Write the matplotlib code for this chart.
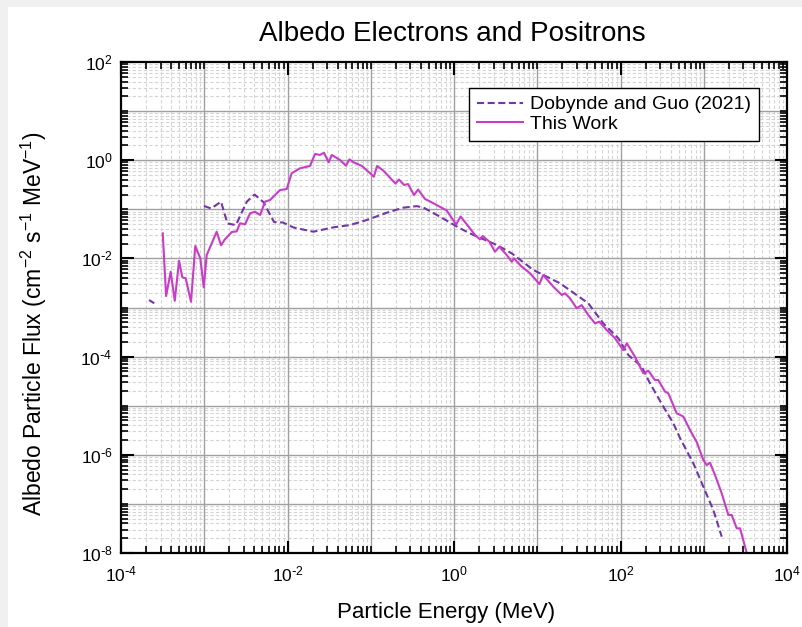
import numpy as np
import matplotlib
matplotlib.use("Agg")
import matplotlib.pyplot as plt
from matplotlib.patches import Rectangle
from matplotlib.ticker import FixedLocator, NullFormatter, FuncFormatter

plt.rcParams['font.family'] = ['Liberation Sans', 'DejaVu Sans']
plt.rcParams['mathtext.default'] = 'regular'
plt.rcParams['axes.unicode_minus'] = False

# This Work (solid magenta)
work_energy = [3.17e-4, 3.48e-4, 3.95e-4, 4.42e-4, 4.98e-4, 5.45e-4, 5.98e-4, 6.93e-4,
               7.80e-4, 8.97e-4, 9.85e-4, 1.07e-3, 1.41e-3, 1.59e-3, 1.77e-3, 2.14e-3,
               2.45e-3, 2.69e-3, 3.09e-3, 3.55e-3, 4.07e-3, 4.68e-3, 5.37e-3, 6.17e-3,
               8.13e-3, 9.78e-3, 1.12e-2, 1.41e-2, 1.86e-2, 2.14e-2, 2.45e-2, 2.74e-2,
               3.12e-2, 3.40e-2, 4.27e-2, 5.05e-2, 5.53e-2, 6.29e-2, 7.85e-2, 0.109,
               0.119, 0.142, 0.198, 0.218, 0.251, 0.280, 0.331, 0.370, 0.449, 0.530,
               0.817, 1.06, 1.20, 1.79, 2.05, 2.21, 2.66, 3.11, 3.50, 4.30, 4.93, 5.26,
               6.38, 8.19, 10.6, 11.8, 15.6, 19.7, 21.5, 24.7, 29.8, 34.2, 41.0, 49.4,
               55.6, 68.2, 85.9, 108, 119, 149, 188, 216, 259, 284, 343, 375, 473, 568,
               684, 823, 988, 1084, 1188, 1365, 1644, 1973, 2166, 2489, 2729, 3311]
work_flux = [3.24e-2, 1.71e-3, 5.36e-3, 1.37e-3, 8.97e-3, 4.12e-3, 3.94e-3, 1.31e-3,
             1.79e-2, 1.00e-2, 2.58e-3, 1.17e-2, 3.50e-2, 1.85e-2, 2.45e-2, 3.45e-2,
             3.56e-2, 5.19e-2, 4.94e-2, 8.30e-2, 8.93e-2, 7.66e-2, 0.143, 0.155,
             0.247, 0.259, 0.541, 0.684, 0.762, 1.34, 1.28, 1.42,
             0.905, 1.28, 1.01, 0.773, 1.04, 0.898, 0.762, 0.461,
             0.762, 0.611, 0.335, 0.404, 0.313, 0.327, 0.195, 0.253, 0.162, 0.141,
             9.46e-2, 4.90e-2, 7.13e-2, 3.00e-2, 2.45e-2, 2.86e-2, 2.19e-2, 1.37e-2,
             1.73e-2, 1.17e-2, 8.57e-3, 1.00e-2, 7.00e-3, 4.98e-3, 3.01e-3, 4.59e-3,
             2.65e-3, 1.80e-3, 1.95e-3, 1.54e-3, 9.63e-4, 1.12e-3, 7.03e-4, 4.76e-4,
             5.14e-4, 3.48e-4, 2.36e-4, 1.36e-4, 1.87e-4, 9.95e-5, 4.57e-5, 5.17e-5,
             3.33e-5, 3.33e-5, 1.93e-5, 1.79e-5, 7.00e-6, 6.03e-6, 3.20e-6, 1.82e-6,
             7.84e-7, 6.20e-7, 6.90e-7, 3.88e-7, 1.64e-7, 5.94e-8, 5.94e-8, 3.18e-8,
             3.18e-8, 9.5e-9]

# Dobynde and Guo (2021) (dashed purple); NaN marks the gap in the data
dg_energy = [2.17e-4, 2.51e-4, np.nan, 9.93e-4, 1.21e-3, 1.59e-3, 1.90e-3, 2.40e-3,
             3.24e-3, 4.02e-3, 5.12e-3, 6.89e-3, 8.83e-3, 1.18e-2, 2.04e-2, 3.55e-2,
             5.64e-2, 8.94e-2, 0.156, 0.246, 0.356, 0.428, 0.679, 1.18, 1.71, 3.26,
             4.93, 8.97, 18.8, 41.0, 62.1, 94.2, 124, 180, 226, 327, 431, 518, 750,
             988, 1303, 1644]
dg_flux = [1.42e-3, 1.22e-3, np.nan, 0.117, 0.104, 0.143, 5.14e-2, 4.78e-2,
           0.143, 0.200, 0.141, 5.51e-2, 5.38e-2, 4.26e-2, 3.50e-2, 4.29e-2,
           4.78e-2, 6.05e-2, 8.53e-2, 0.108, 0.116, 0.109, 7.06e-2, 4.10e-2, 3.00e-2,
           1.88e-2, 1.27e-2, 5.81e-3, 3.11e-3, 1.22e-3, 4.76e-4, 2.36e-4, 1.08e-4,
           6.22e-5, 2.86e-5, 9.55e-6, 4.39e-6, 2.20e-6, 6.71e-7, 2.24e-7, 7.52e-8,
           2.15e-8]

x_decades = (-4, 4)
y_decades = (-8, 2)

fig = plt.figure(figsize=(8.02, 6.27), dpi=100)
fig.patch.set_facecolor('#f0f0f0')
fig.patches.append(Rectangle((8 / 802, 0), 1, 1 - 7 / 627, transform=fig.transFigure,
                             facecolor='white', edgecolor='none', zorder=-10))

ax = fig.add_axes([0.1509, 0.118, 0.8304, 0.7831])
ax.set_xscale('log')
ax.set_yscale('log')
ax.set_xlim(10.0 ** x_decades[0], 10.0 ** x_decades[1])
ax.set_ylim(10.0 ** y_decades[0], 10.0 ** y_decades[1])


def grid_values(lo, hi):
    major, minor = [], []
    for n in range(lo, hi):
        major.append(10.0 ** n)
        minor.extend(s * 10.0 ** n for s in range(2, 10))
    return major, minor


xmaj, xmin = grid_values(*x_decades)
ymaj, ymin = grid_values(*y_decades)
for v in xmin:
    ax.axvline(v, color='#d4d4d4', lw=0.8, ls=(0, (3, 2)), zorder=0)
for v in ymin:
    ax.axhline(v, color='#d4d4d4', lw=0.8, ls=(0, (3, 2)), zorder=0)
for v in xmaj[1:]:
    ax.axvline(v, color='#a0a0a0', lw=1.0, zorder=0.5)
for v in ymaj[1:]:
    ax.axhline(v, color='#a0a0a0', lw=1.0, zorder=0.5)

ax.plot(dg_energy, dg_flux, color='#7236a8', lw=1.5, dashes=(3.4, 1.7),
        label='Dobynde and Guo (2021)', zorder=3)
ax.plot(work_energy, work_flux, color='#c83cc8', lw=1.5,
        label='This Work', zorder=4)


def pow_label(v, pos):
    e = int(round(np.log10(v)))
    if e < 0:
        return r'$10^{\text{-}%d}$' % (-e)
    return r'$10^{%d}$' % e


# ticks: labels every two decades, minor ticks elsewhere
x_labelled = [10.0 ** n for n in range(x_decades[0], x_decades[1] + 1, 2)]
y_labelled = [10.0 ** n for n in range(y_decades[0], y_decades[1] + 1, 2)]
ax.xaxis.set_major_locator(FixedLocator(x_labelled))
ax.yaxis.set_major_locator(FixedLocator(y_labelled))
ax.xaxis.set_major_formatter(FuncFormatter(pow_label))
ax.yaxis.set_major_formatter(FuncFormatter(pow_label))
xm = [v for v in xmin + xmaj if not np.isclose(np.log10(v) % 2, 0)]
ym = [v for v in ymin + ymaj if not np.isclose(np.log10(v) % 2, 0)]
ax.xaxis.set_minor_locator(FixedLocator(xm))
ax.yaxis.set_minor_locator(FixedLocator(ym))
ax.xaxis.set_minor_formatter(NullFormatter())
ax.yaxis.set_minor_formatter(NullFormatter())
ax.tick_params(which='both', direction='in', top=True, right=True, color='black')
ax.tick_params(which='major', length=9, width=1.5, labelsize=12.5)
ax.tick_params(which='minor', length=5, width=1.2)
ax.tick_params(axis='x', which='major', pad=8)
ax.tick_params(axis='y', which='major', pad=6)

for side in ['left', 'bottom', 'top', 'right']:
    ax.spines[side].set_linewidth(1.6)
    ax.spines[side].set_zorder(5)

ax.set_xlabel('Particle Energy (MeV)', fontsize=16)
ax.set_ylabel('Albedo Particle Flux (cm$^{-2}$ s$^{-1}$ MeV$^{-1}$)', fontsize=16.5)
ax.xaxis.set_label_coords(0.488, -0.100)
ax.yaxis.set_label_coords(-0.108, 0.467)
ax.text(0.497, 1.043, 'Albedo Electrons and Positrons', transform=ax.transAxes,
        ha='center', va='baseline', fontsize=20)

leg = ax.legend(loc='upper right', bbox_to_anchor=(0.958, 0.947), borderaxespad=0,
                fontsize=14, fancybox=False, framealpha=1, edgecolor='black',
                handlelength=2.4, borderpad=0.4, labelspacing=0.1, handletextpad=0.35)
leg.get_frame().set_linewidth(1.0)

fig.savefig('out.png', dpi=100, facecolor=fig.get_facecolor())
